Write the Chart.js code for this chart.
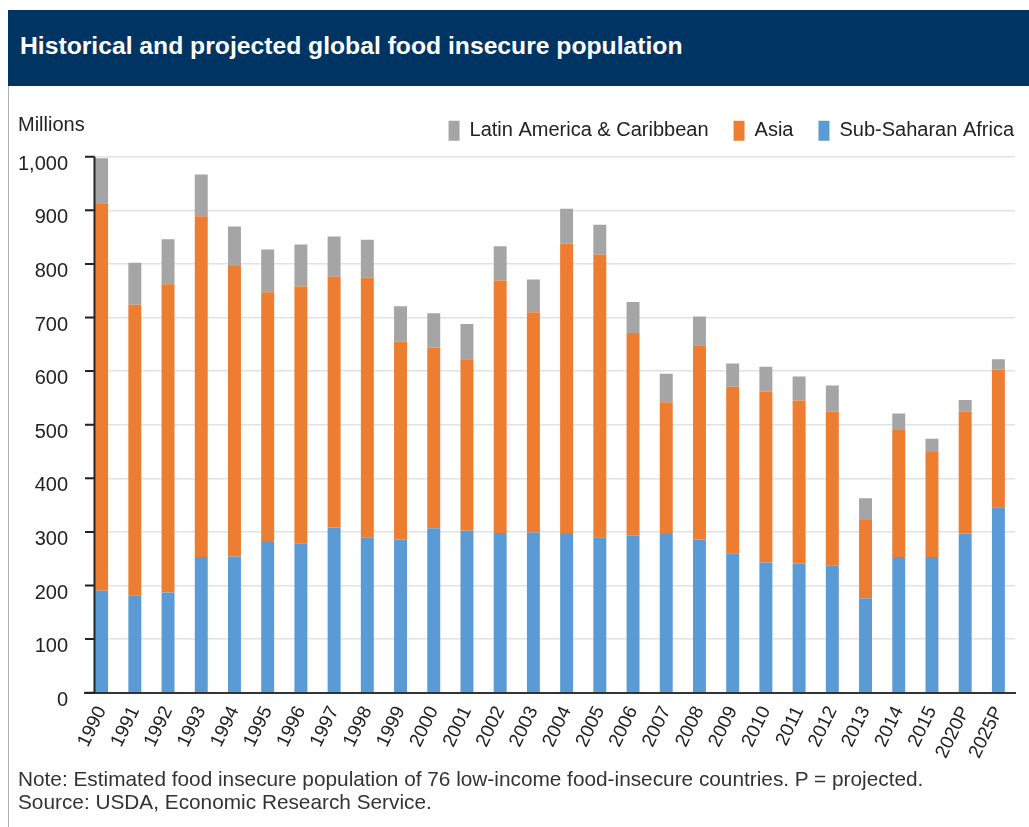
<!DOCTYPE html>
<html>
<head>
<meta charset="utf-8">
<script src="https://cdn.jsdelivr.net/npm/chart.js@4.4.0/dist/chart.umd.min.js"></script>
<style>
  body { margin: 0; background: #fff; font-family: "Liberation Sans", Arial, sans-serif; color: #222; }
  #page { position: relative; width: 1029px; height: 827px; overflow: hidden; }
  #banner { position: absolute; left: 8px; top: 10px; right: 0; height: 76px; background: #003462; }
  #banner h1 { margin: 0; position: absolute; left: 12px; top: 22px; font-size: 24.7px; font-weight: bold; color: #fff; }
  #frame { position: absolute; left: 8px; top: 86px; width: 1px; bottom: 0; background: #b0b0b0; }
  #units { position: absolute; left: 18px; top: 113px; font-size: 20px; }
  #notes { position: absolute; left: 18px; top: 767px; font-size: 20.8px; line-height: 23px; color: #333; }
  #chart { position: absolute; left: 0; top: 100px; }
</style>
</head>
<body>
<div id="page">
  <div id="banner"><h1>Historical and projected global food insecure population</h1></div>
  <div id="frame"></div>
  <canvas id="chart" width="1029" height="700"></canvas>
  <div id="units">Millions</div>
  <div id="notes">Note: Estimated food insecure population of 76 low-income food-insecure countries. P = projected.<br>Source: USDA, Economic Research Service.</div>
</div>
<script>
// Chart data (millions of people)
const years = ['1990', '1991', '1992', '1993', '1994', '1995', '1996', '1997', '1998', '1999',
  '2000', '2001', '2002', '2003', '2004', '2005', '2006', '2007', '2008', '2009',
  '2010', '2011', '2012', '2013', '2014', '2015', '2020P', '2025P'];
const subSaharanAfrica = [190, 182, 187, 253, 254, 281, 279, 308, 290, 286,
  307, 302, 298, 299, 298, 290, 293, 296, 286, 260,
  243, 241, 238, 176, 253, 253, 297, 346];
const asia = [723, 542, 575, 636, 542, 466, 479, 468, 484, 369,
  337, 320, 471, 411, 540, 527, 378, 246, 362, 311,
  319, 304, 286, 146, 237, 196, 227, 257];
const latinAmerica = [84, 78, 84, 78, 74, 80, 78, 75, 71, 66,
  64, 66, 64, 61, 65, 56, 58, 53, 54, 43,
  46, 45, 49, 41, 31, 25, 22, 19];
const yTicks = [0, 100, 200, 300, 400, 500, 600, 700, 800, 900, 1000];

// draws the y axis line a little inside the plot, with tick marks to its left
const yAxisLine = {
  id: 'yAxisLine',
  afterDatasetsDraw(chart) {
    const {ctx, chartArea, scales} = chart;
    const ax = chartArea.left + 9.5;
    ctx.save();
    ctx.strokeStyle = '#222';
    ctx.lineWidth = 2;
    ctx.beginPath();
    ctx.moveTo(ax, scales.y.getPixelForValue(1000));
    ctx.lineTo(ax, scales.y.getPixelForValue(0));
    yTicks.forEach(function (v) {
      const py = scales.y.getPixelForValue(v);
      ctx.moveTo(chartArea.left, py);
      ctx.lineTo(ax, py);
    });
    ctx.stroke();
    ctx.restore();
  }
};

// nudge the legend up and right, the way the original sits above the plot
const legendShift = {
  id: 'legendShift',
  afterLayout(chart) {
    const lg = chart.legend;
    lg.left += 24; lg.right += 24;
    lg.top -= 6; lg.bottom -= 6;
  }
};

Chart.defaults.font.family = '"Liberation Sans", Arial, sans-serif';
Chart.defaults.color = '#222';

new Chart(document.getElementById('chart'), {
  type: 'bar',
  data: {
    labels: years,
    datasets: [
      {label: 'Sub-Saharan Africa', data: subSaharanAfrica, backgroundColor: '#5b9bd5'},
      {label: 'Asia', data: asia, backgroundColor: '#ed7d31'},
      {label: 'Latin America & Caribbean', data: latinAmerica, backgroundColor: '#a5a5a5'}
    ]
  },
  options: {
    responsive: false,
    animation: false,
    categoryPercentage: 1,
    barPercentage: 0.39,
    layout: {padding: {top: 1.7, right: 14, left: 0, bottom: 0}},
    scales: {
      x: {
        stacked: true,
        grid: {display: false},
        border: {display: true, color: '#333', width: 2},
        ticks: {
          autoSkip: false,
          maxRotation: 64,
          minRotation: 64,
          padding: 2,
          font: {size: 19}
        },
        afterFit(scale) { scale.height = 107.3; }
      },
      y: {
        stacked: true,
        min: 0,
        max: 1000,
        border: {display: false},
        grid: {color: '#e2e2e2', lineWidth: 1.5, drawTicks: false},
        ticks: {
          stepSize: 100,
          padding: 17,
          labelOffset: 7.5,
          font: {size: 20},
          callback: function (v) { return v.toLocaleString('en-US'); }
        },
        afterFit(scale) { scale.width = 85; }
      }
    },
    plugins: {
      tooltip: {enabled: false},
      legend: {
        position: 'top',
        align: 'end',
        reverse: true,
        labels: {
          boxWidth: 11,
          boxHeight: 20,
          padding: 25,
          font: {size: 20},
          color: '#222'
        }
      }
    }
  },
  plugins: [yAxisLine, legendShift]
});
</script>
</body>
</html>
